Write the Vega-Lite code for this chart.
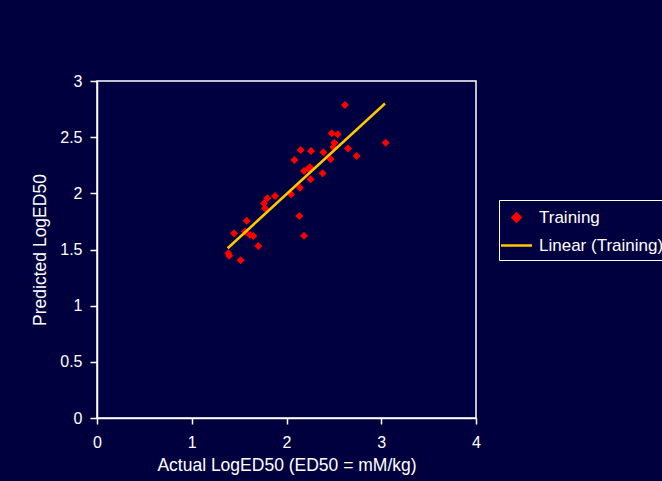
{
  "$schema": "https://vega.github.io/schema/vega-lite/v6.json",
  "width": 379,
  "height": 337,
  "autosize": {"type": "none"},
  "padding": {"left": 97, "top": 81, "right": 186, "bottom": 63},
  "background": "#00003e",
  "config": {
    "font": "Liberation Sans",
    "view": {"stroke": "#FFFFFF", "strokeWidth": 1.5, "fill": "#000040"},
    "axis": {
      "labelColor": "#FFFFFF", "titleColor": "#FFFFFF", "domainColor": "#FFFFFF", "tickColor": "#FFFFFF",
      "labelFont": "Liberation Sans", "titleFont": "Liberation Sans",
      "labelFontSize": 16, "titleFontSize": 17.5, "titleFontWeight": "normal",
      "grid": false, "tickSize": 6, "domainWidth": 1.5, "tickWidth": 1.5, "format": "~g", "labelFlush": false
    }
  },
  "datasets": {
    "points": [
      {"actual": 2.617, "predicted": 2.786, "series": "Training"},
      {"actual": 3.047, "predicted": 2.451, "series": "Training"},
      {"actual": 2.477, "predicted": 2.534, "series": "Training"},
      {"actual": 2.54, "predicted": 2.525, "series": "Training"},
      {"actual": 2.505, "predicted": 2.451, "series": "Training"},
      {"actual": 2.494, "predicted": 2.41, "series": "Training"},
      {"actual": 2.649, "predicted": 2.398, "series": "Training"},
      {"actual": 2.74, "predicted": 2.332, "series": "Training"},
      {"actual": 2.389, "predicted": 2.365, "series": "Training"},
      {"actual": 2.466, "predicted": 2.303, "series": "Training"},
      {"actual": 2.15, "predicted": 2.386, "series": "Training"},
      {"actual": 2.259, "predicted": 2.377, "series": "Training"},
      {"actual": 2.083, "predicted": 2.297, "series": "Training"},
      {"actual": 2.248, "predicted": 2.232, "series": "Training"},
      {"actual": 2.185, "predicted": 2.199, "series": "Training"},
      {"actual": 2.23, "predicted": 2.22, "series": "Training"},
      {"actual": 2.381, "predicted": 2.178, "series": "Training"},
      {"actual": 2.254, "predicted": 2.125, "series": "Training"},
      {"actual": 2.142, "predicted": 2.05, "series": "Training"},
      {"actual": 2.048, "predicted": 1.991, "series": "Training"},
      {"actual": 1.879, "predicted": 1.976, "series": "Training"},
      {"actual": 1.797, "predicted": 1.956, "series": "Training"},
      {"actual": 1.763, "predicted": 1.911, "series": "Training"},
      {"actual": 1.773, "predicted": 1.867, "series": "Training"},
      {"actual": 2.135, "predicted": 1.798, "series": "Training"},
      {"actual": 2.185, "predicted": 1.623, "series": "Training"},
      {"actual": 1.58, "predicted": 1.757, "series": "Training"},
      {"actual": 1.446, "predicted": 1.644, "series": "Training"},
      {"actual": 1.562, "predicted": 1.659, "series": "Training"},
      {"actual": 1.615, "predicted": 1.629, "series": "Training"},
      {"actual": 1.65, "predicted": 1.62, "series": "Training"},
      {"actual": 1.703, "predicted": 1.531, "series": "Training"},
      {"actual": 1.386, "predicted": 1.466, "series": "Training"},
      {"actual": 1.396, "predicted": 1.445, "series": "Training"},
      {"actual": 1.516, "predicted": 1.404, "series": "Training"}
    ],
    "fit": [
      {"actual": 1.379, "predicted": 1.511, "series": "Linear (Training)"},
      {"actual": 3.04, "predicted": 2.8, "series": "Linear (Training)"}
    ]
  },
  "layer": [
    {
      "data": {"name": "points"},
      "mark": {"type": "point", "filled": true, "opacity": 1, "size": 400, "strokeWidth": 0},
      "encoding": {
        "x": {"field": "actual", "type": "quantitative", "scale": {"domain": [0, 4]},
              "axis": {"values": [0, 1, 2, 3, 4], "title": "Actual LogED50 (ED50 = mM/kg)", "labelPadding": 10, "titlePadding": 6}},
        "y": {"field": "predicted", "type": "quantitative", "scale": {"domain": [0, 3]},
              "axis": {"values": [0, 0.5, 1, 1.5, 2, 2.5, 3], "title": "Predicted LogED50", "tickSize": 7, "labelPadding": 8, "titlePadding": 10}},
        "color": {"field": "series", "type": "nominal",
                  "scale": {"domain": ["Training", "Linear (Training)"], "range": ["#FF0000", "#FFC800"]},
                  "legend": {"title": null, "orient": "none", "legendX": 402, "legendY": 119,
                             "fillColor": "#000040", "strokeColor": "#FFFFFF", "padding": 6,
                             "labelColor": "#FFFFFF", "labelFontSize": 17, "labelFont": "Liberation Sans",
                             "symbolSize": 400, "rowPadding": 7, "labelOffset": 11, "symbolStrokeWidth": 2.5,
                             "encode": {"symbols": {"update": {"stroke": {"signal": "datum.value === 'Training' ? 'transparent' : '#FFC800'"}}}}}},
        "shape": {"field": "series", "type": "nominal",
                  "scale": {"domain": ["Training", "Linear (Training)"], "range": ["M0,-0.4L0.4,0L0,0.4L-0.4,0Z", "M-1.55,0L1.55,0"]},
                  "legend": {"title": null, "orient": "none", "legendX": 402, "legendY": 119,
                             "fillColor": "#000040", "strokeColor": "#FFFFFF", "padding": 6,
                             "labelColor": "#FFFFFF", "labelFontSize": 17, "labelFont": "Liberation Sans",
                             "symbolSize": 400, "rowPadding": 7, "labelOffset": 11, "symbolStrokeWidth": 2.5,
                             "encode": {"symbols": {"update": {"stroke": {"signal": "datum.value === 'Training' ? 'transparent' : '#FFC800'"}}}}}}
      }
    },
    {
      "data": {"name": "fit"},
      "mark": {"type": "line", "strokeWidth": 2.5},
      "encoding": {
        "x": {"field": "actual", "type": "quantitative"},
        "y": {"field": "predicted", "type": "quantitative"},
        "color": {"field": "series", "type": "nominal"}
      }
    }
  ]
}
